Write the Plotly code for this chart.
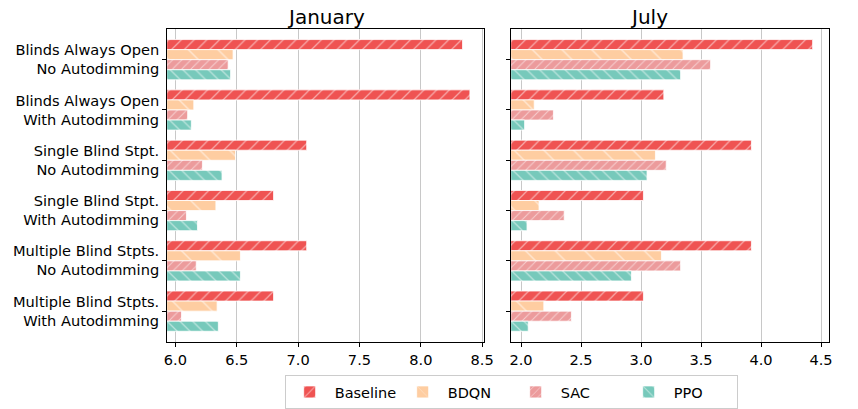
import plotly.graph_objects as go

# Scenario labels (two lines each)
scenarios = [
    "Blinds Always Open<br>No Autodimming",
    "Blinds Always Open<br>With Autodimming",
    "Single Blind Stpt.<br>No Autodimming",
    "Single Blind Stpt.<br>With Autodimming",
    "Multiple Blind Stpts.<br>No Autodimming",
    "Multiple Blind Stpts.<br>With Autodimming",
]
methods = ["Baseline", "BDQN", "SAC", "PPO"]

# January results per method
jan_baseline = [8.34, 8.40, 7.07, 6.80, 7.07, 6.80]
jan_bdqn = [6.47, 6.15, 6.49, 6.33, 6.53, 6.34]
jan_sac = [6.43, 6.10, 6.22, 6.09, 6.17, 6.05]
jan_ppo = [6.45, 6.13, 6.38, 6.18, 6.53, 6.35]

# July results per method
jul_baseline = [4.43, 3.19, 3.92, 3.02, 3.92, 3.02]
jul_bdqn = [3.35, 2.11, 3.12, 2.15, 3.17, 2.19]
jul_sac = [3.58, 2.27, 3.21, 2.36, 3.33, 2.42]
jul_ppo = [3.33, 2.03, 3.05, 2.05, 2.92, 2.06]

jan_ticks = [6.0, 6.5, 7.0, 7.5, 8.0, 8.5]
jul_ticks = [2.0, 2.5, 3.0, 3.5, 4.0, 4.5]

colors = {"Baseline": "#EF5352", "BDQN": "#FECDA1", "SAC": "#EC9B9C", "PPO": "#77C9BB"}
hatches = {
    "Baseline": dict(shape="/", size=9, solidity=0.14),
    "BDQN": dict(shape="\\", size=21, solidity=0.07),
    "SAC": dict(shape="/", size=6.5, solidity=0.16),
    "PPO": dict(shape="\\", size=9, solidity=0.14),
}

jan = {"Baseline": jan_baseline, "BDQN": jan_bdqn, "SAC": jan_sac, "PPO": jan_ppo}
jul = {"Baseline": jul_baseline, "BDQN": jul_bdqn, "SAC": jul_sac, "PPO": jul_ppo}

FONT = "DejaVu Sans"
fig = go.Figure()

for panel, (data, xa, ya) in enumerate([(jan, "x", "y"), (jul, "x2", "y2")]):
    for m in methods:
        fig.add_trace(go.Bar(
            y=scenarios, x=data[m], orientation="h", name=m,
            xaxis=xa, yaxis=ya, legendgroup=m, showlegend=(panel == 0),
            marker=dict(
                color=colors[m],
                line=dict(color="white", width=0.8),
                pattern=dict(fillmode="overlay", bgcolor=colors[m], fgcolor="white", **hatches[m]),
            ),
        ))

W, H = 858, 409
ytop = 1 - 29 / H
ybot = 1 - 348.3 / H

axis_common = dict(
    showline=True, linecolor="black", linewidth=1.2, mirror=True,
    ticks="outside", ticklen=4, tickwidth=1, tickcolor="black",
    tickfont=dict(family=FONT, size=14.6, color="black"),
)

fig.update_layout(
    width=W, height=H,
    margin=dict(l=0, r=0, t=0, b=0),
    plot_bgcolor="white", paper_bgcolor="white",
    barmode="group", bargap=0.2, bargroupgap=0.0,
    font=dict(family=FONT, color="black"),
    xaxis=dict(domain=[166.7 / W, 488.3 / W], range=[5.933, 8.514], tickvals=jan_ticks,
               ticktext=[f"{v:.1f}" for v in jan_ticks], showgrid=True, gridcolor="#c8c8c8",
               gridwidth=1, zeroline=False, anchor="y", **axis_common),
    xaxis2=dict(domain=[516 / W, 838.3 / W], range=[1.918, 4.563], tickvals=jul_ticks,
                ticktext=[f"{v:.1f}" for v in jul_ticks], showgrid=True, gridcolor="#c8c8c8",
                gridwidth=1, zeroline=False, anchor="y2", **axis_common),
    yaxis=dict(domain=[ybot, ytop], type="category", categoryorder="array",
               categoryarray=scenarios, range=[5.62, -0.62], showgrid=False,
               anchor="x", **axis_common),
    yaxis2=dict(domain=[ybot, ytop], type="category", categoryorder="array",
                categoryarray=scenarios, range=[5.62, -0.62], showgrid=False,
                showticklabels=False, anchor="x2", **axis_common),
    legend=dict(
        orientation="h", x=516 / W, xanchor="center", y=1 - 382 / H, yanchor="top",
        bordercolor="#cccccc", borderwidth=1, bgcolor="white",
        font=dict(family=FONT, size=14.5, color="black"),
        itemwidth=40, entrywidth=58,
    ),
    annotations=[
        dict(text="January", x=(166.7 + 488.3) / 2 / W, y=1 - 17 / H, xref="paper", yref="paper",
             showarrow=False, font=dict(family=FONT, size=20, color="black"), yanchor="middle"),
        dict(text="July", x=(516 + 838.3) / 2 / W, y=1 - 17 / H, xref="paper", yref="paper",
             showarrow=False, font=dict(family=FONT, size=20, color="black"), yanchor="middle"),
    ],
)

fig.write_html("out.html")
